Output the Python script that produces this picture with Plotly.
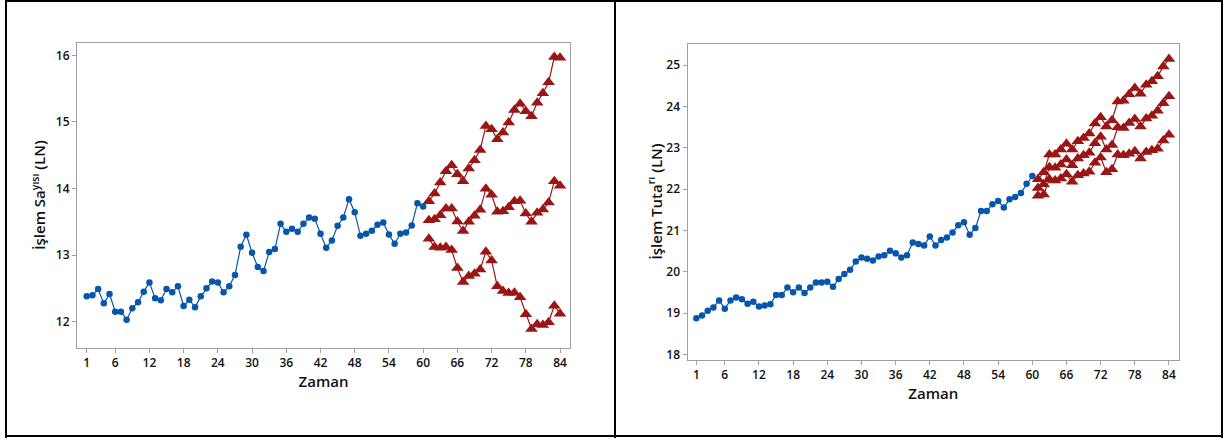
import plotly.graph_objects as go

# ---------------- data ----------------
t_hist = list(range(1, 61))
t_fc = list(range(61, 85))
x_ticks = [1, 6, 12, 18, 24, 30, 36, 42, 48, 54, 60, 66, 72, 78, 84]

sayi_hist = [12.38, 12.395, 12.49, 12.275, 12.415, 12.15, 12.15, 12.03, 12.20, 12.29,
             12.45, 12.59, 12.35, 12.32, 12.49, 12.44, 12.53, 12.235, 12.33, 12.215,
             12.38, 12.50, 12.605, 12.59, 12.44, 12.53, 12.70, 13.125, 13.305, 13.035,
             12.82, 12.76, 13.045, 13.09, 13.47, 13.35, 13.395, 13.35, 13.47, 13.565,
             13.545, 13.32, 13.11, 13.22, 13.44, 13.565, 13.84, 13.645, 13.29, 13.32,
             13.365, 13.455, 13.49, 13.31, 13.17, 13.32, 13.34, 13.445, 13.78, 13.73]
sayi_upper = [13.81, 13.925, 14.09, 14.26, 14.35, 14.215, 14.11, 14.30, 14.425, 14.58,
              14.94, 14.89, 14.74, 14.84, 14.99, 15.18, 15.275, 15.16, 15.085, 15.29,
              15.43, 15.595, 15.975, 15.965]
sayi_mid = [13.525, 13.54, 13.60, 13.70, 13.70, 13.505, 13.36, 13.50, 13.59, 13.68,
            13.995, 13.905, 13.65, 13.66, 13.72, 13.81, 13.815, 13.625, 13.50, 13.635,
            13.685, 13.79, 14.11, 14.04]
sayi_lower = [13.245, 13.12, 13.11, 13.12, 13.075, 12.805, 12.595, 12.685, 12.72, 12.785,
              13.05, 12.92, 12.53, 12.46, 12.43, 12.435, 12.365, 12.11, 11.89, 11.96,
              11.95, 11.99, 12.24, 12.12]

tutar_hist = [18.88, 18.945, 19.06, 19.14, 19.31, 19.11, 19.31, 19.38, 19.34, 19.23,
              19.28, 19.16, 19.19, 19.22, 19.44, 19.44, 19.62, 19.51, 19.62, 19.49,
              19.62, 19.745, 19.745, 19.76, 19.64, 19.83, 19.95, 20.05, 20.25, 20.35,
              20.32, 20.275, 20.37, 20.40, 20.51, 20.45, 20.35, 20.40, 20.71, 20.675,
              20.64, 20.855, 20.64, 20.77, 20.83, 20.955, 21.13, 21.20, 20.90, 21.06,
              21.475, 21.475, 21.635, 21.715, 21.555, 21.755, 21.81, 21.91, 22.13, 22.32]
tutar_upper = [22.24, 22.41, 22.84, 22.84, 22.96, 23.10, 22.96, 23.16, 23.24, 23.35,
               23.59, 23.74, 23.52, 23.67, 24.12, 24.14, 24.30, 24.45, 24.31, 24.53,
               24.61, 24.73, 24.97, 25.15]
tutar_mid = [22.03, 22.12, 22.53, 22.52, 22.60, 22.72, 22.58, 22.74, 22.82, 22.88,
             23.11, 23.27, 22.96, 23.07, 23.50, 23.48, 23.60, 23.70, 23.52, 23.71,
             23.78, 23.90, 24.08, 24.25]
tutar_lower = [21.84, 21.875, 22.24, 22.21, 22.26, 22.36, 22.18, 22.34, 22.38, 22.42,
               22.64, 22.77, 22.41, 22.48, 22.84, 22.82, 22.86, 22.92, 22.74, 22.90,
               22.94, 22.98, 23.18, 23.32]

left_y_ticks = [12, 13, 14, 15, 16]
right_y_ticks = [18, 19, 20, 21, 22, 23, 24, 25]

# ---------------- styles ----------------
BLUE = "#0656ab"
RED = "#9b1515"
FONT = "Open Sans"
TXT = "#111111"

fig = go.Figure()

def add_hist(x, y, xa, ya):
    fig.add_trace(go.Scatter(x=x, y=y, mode="lines+markers", xaxis=xa, yaxis=ya,
                             line=dict(color=BLUE, width=1.2),
                             marker=dict(symbol="circle", size=6.5, color=BLUE),
                             showlegend=False, hoverinfo="x+y"))

def add_fc(x, y, xa, ya):
    fig.add_trace(go.Scatter(x=x, y=y, mode="lines+markers", xaxis=xa, yaxis=ya,
                             line=dict(color=RED, width=1.2),
                             marker=dict(symbol="triangle-up", size=11, color=RED),
                             showlegend=False, hoverinfo="x+y"))

add_hist(t_hist, sayi_hist, "x", "y")
for s in (sayi_upper, sayi_mid, sayi_lower):
    add_fc(t_fc, s, "x", "y")

add_hist(t_hist, tutar_hist, "x2", "y2")
for s in (tutar_upper, tutar_mid, tutar_lower):
    add_fc(t_fc, s, "x2", "y2")

W, H = 1224, 441

axis_common = dict(showline=True, linecolor="#a0a0a0", linewidth=1, mirror=True,
                   ticks="outside", ticklen=4, tickcolor="#a0a0a0", showgrid=False,
                   zeroline=False,
                   tickfont=dict(family=FONT, size=12, color=TXT, weight=600))
title_font = dict(family=FONT, size=15, color=TXT, weight=600)

fig.update_layout(
    width=W, height=H,
    margin=dict(l=0, r=0, t=0, b=0),
    paper_bgcolor="white", plot_bgcolor="white",
    font=dict(family=FONT),
    xaxis=dict(domain=[77 / W, 570 / W], range=[-0.7, 85.75], tickvals=x_ticks,
               title=dict(text="Zaman", font=title_font, standoff=6),
               anchor="y", **axis_common),
    yaxis=dict(domain=[1 - 350 / H, 1 - 43 / H], range=[11.61, 16.19], tickvals=left_y_ticks,
               title=dict(text="İşlem Sa<sup>yısı</sup> (LN)", font=title_font, standoff=6),
               anchor="x", **axis_common),
    xaxis2=dict(domain=[687.5 / W, 1179 / W], range=[-0.55, 85.76], tickvals=x_ticks,
                title=dict(text="Zaman", font=title_font, standoff=6),
                anchor="y2", **axis_common),
    yaxis2=dict(domain=[1 - 362 / H, 1 - 44 / H], range=[17.88, 25.52], tickvals=right_y_ticks,
                title=dict(text="İşlem Tuta<sup>rı</sup> (LN)", font=title_font, standoff=0),
                anchor="x2", **axis_common),
)

# panel frames
frame = dict(type="line", xref="paper", yref="paper", line=dict(color="black", width=2))
fig.add_shape(x0=6 / W, x1=6 / W, y0=0, y1=1, **frame)
fig.add_shape(x0=615 / W, x1=615 / W, y0=0, y1=1, **frame)
fig.add_shape(x0=1222 / W, x1=1222 / W, y0=0, y1=1, **frame)
fig.add_shape(x0=6 / W, x1=1222 / W, y0=1 - 1 / H, y1=1 - 1 / H, **frame)
fig.add_shape(x0=6 / W, x1=1222 / W, y0=2 / H, y1=2 / H, **frame)

fig.write_html("out.html", config={"displayModeBar": False},
               post_script="document.body.style.margin='0';document.body.style.overflow='hidden';")
